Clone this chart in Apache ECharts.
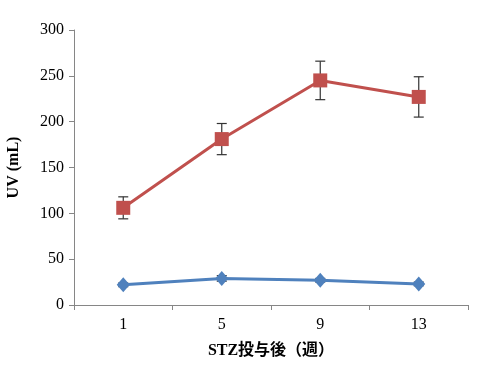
<!DOCTYPE html>
<html><head><meta charset="utf-8">
<script src="https://cdn.jsdelivr.net/npm/echarts@6/dist/echarts.min.js"></script>
<style>html,body{margin:0;padding:0;background:#fff}#c{width:489px;height:369px}</style>
</head><body><div id="c"></div>
<script>
var categories = ['1', '5', '9', '13'];
var redValues = [106, 181, 245, 227];
var redErrors = [12, 17, 21, 22];
var blueValues = [22, 29, 27, 23];
var blueErrors = [2, 3, 2, 2];
var yTicks = [0, 50, 100, 150, 200, 250, 300];

var serif = '"Liberation Serif", "Noto Sans CJK JP", serif';

function errData(vals, errs) {
  return vals.map(function (v, i) { return [i, v - errs[i], v + errs[i]]; });
}
function errRender(params, api) {
  var x = api.value(0);
  var lo = api.coord([x, api.value(1)]);
  var hi = api.coord([x, api.value(2)]);
  var w = 5;
  var style = { stroke: '#333', lineWidth: 1.2 };
  return {
    type: 'group',
    children: [
      { type: 'line', shape: { x1: lo[0], y1: lo[1], x2: hi[0], y2: hi[1] }, style: style },
      { type: 'line', shape: { x1: lo[0] - w, y1: lo[1], x2: lo[0] + w, y2: lo[1] }, style: style },
      { type: 'line', shape: { x1: hi[0] - w, y1: hi[1], x2: hi[0] + w, y2: hi[1] }, style: style }
    ]
  };
}

var chart = echarts.init(document.getElementById('c'));
chart.setOption({
  animation: false,
  grid: { left: 74, right: 21, top: 30, bottom: 64, containLabel: false, outerBoundsMode: 'none' },
  xAxis: {
    type: 'category',
    data: categories,
    boundaryGap: true,
    axisLine: { lineStyle: { color: '#868686', width: 1 } },
    axisTick: { show: true, alignWithLabel: false, length: 5, lineStyle: { color: '#868686' } },
    axisLabel: { color: '#000', fontFamily: serif, fontSize: 16, margin: 12 },
    name: 'STZ投与後（週）',
    nameLocation: 'middle',
    nameGap: 38,
    nameTextStyle: { color: '#000', fontFamily: serif, fontSize: 16, fontWeight: 'bold' }
  },
  yAxis: {
    type: 'value',
    min: 0, max: 300, interval: 50,
    axisLine: { show: true, lineStyle: { color: '#868686', width: 1 } },
    axisTick: { show: true, length: 5, lineStyle: { color: '#868686' } },
    splitLine: { show: false },
    axisLabel: {
      color: '#000', fontFamily: serif, fontSize: 16, margin: 10,
      formatter: function (v) { return yTicks.indexOf(v) >= 0 ? String(v) : ''; }
    },
    name: 'UV (mL)',
    nameLocation: 'middle',
    nameGap: 52,
    nameRotate: 90,
    nameTextStyle: { color: '#000', fontFamily: serif, fontSize: 16, fontWeight: 'bold' }
  },
  series: [
    {
      type: 'line', data: blueValues,
      symbol: 'diamond', symbolSize: [13, 15],
      lineStyle: { color: '#4F81BD', width: 3 },
      itemStyle: { color: '#4F81BD' }, z: 3
    },
    {
      type: 'custom', data: errData(blueValues, blueErrors),
      renderItem: errRender, z: 1, encode: { x: 0, y: [1, 2] }
    },
    {
      type: 'line', data: redValues,
      symbol: 'rect', symbolSize: 14,
      lineStyle: { color: '#C0504D', width: 3 },
      itemStyle: { color: '#C0504D' }, z: 3
    },
    {
      type: 'custom', data: errData(redValues, redErrors),
      renderItem: errRender, z: 1, encode: { x: 0, y: [1, 2] }
    }
  ]
});
</script></body></html>
